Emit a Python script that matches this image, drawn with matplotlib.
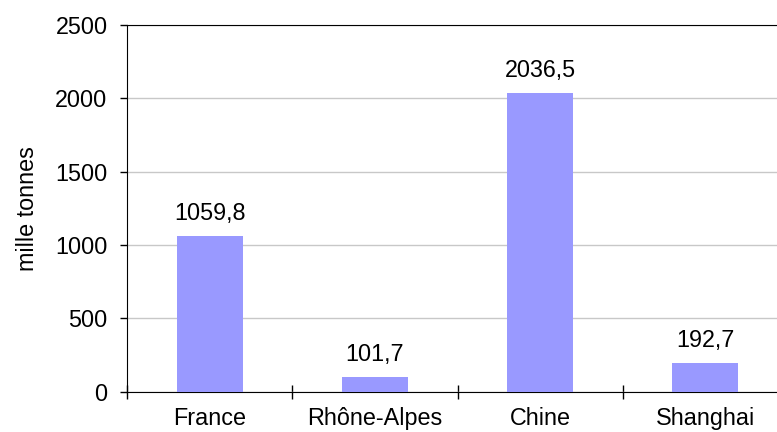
import matplotlib
matplotlib.use("Agg")
import matplotlib.pyplot as plt
import numpy as np

categories = ["France", "Rhône-Alpes", "Chine", "Shanghai"]
values = [1059.8, 101.7, 2036.5, 192.7]
yticks = [0, 500, 1000, 1500, 2000, 2500]

plt.rcParams['font.family'] = ['Liberation Sans', 'DejaVu Sans']
fs = 16.8

fig = plt.figure(figsize=(7.77, 4.32), dpi=100)
ax = fig.add_axes([127/777, 40.3/432, 661/777, 366.7/432])

x = np.arange(len(categories))
ax.bar(x, values, width=0.4, color='#9999ff', zorder=3)

for xi, v in zip(x, values):
    ax.annotate(f"{v:.1f}".replace('.', ','), (xi, v), xytext=(0, 8),
                textcoords='offset points', ha='center', va='bottom', fontsize=fs)

ax.set_xlim(-0.5, len(categories) - 0.5)
ax.set_ylim(0, 2500)
ax.set_yticks(yticks)
ax.set_xticks(np.arange(len(categories) + 1) - 0.5)
ax.set_xticklabels([])
ax.set_xticks(x, minor=True)
ax.set_xticklabels(categories, minor=True, fontsize=fs)
ax.tick_params(axis='x', which='major', direction='inout', length=10, width=1)
ax.tick_params(axis='x', which='minor', length=0, pad=11)
ax.tick_params(axis='y', direction='out', length=5, width=1, labelsize=fs, pad=9)

ax.yaxis.grid(True, color='#c8c8c8', linewidth=1, zorder=0)
ax.spines['right'].set_visible(False)
ax.spines['top'].set_color('black')
ax.set_ylabel("mille tonnes", fontsize=fs, labelpad=12)

fig.savefig("out.png", dpi=100)
